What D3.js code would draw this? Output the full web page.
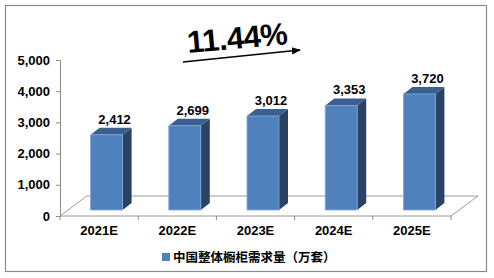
<!DOCTYPE html>
<html><head><meta charset="utf-8">
<script src="https://cdn.jsdelivr.net/npm/d3@7"></script>
<style>
html,body{margin:0;padding:0;background:#fff;}
svg{display:block;font-family:"Liberation Sans",Arial,sans-serif;}
</style></head>
<body>
<svg id="c" width="494" height="278"></svg>
<script>
const categories = ["2021E","2022E","2023E","2024E","2025E"];
const values = [2412,2699,3012,3353,3720];
const yTicks = [0,1000,2000,3000,4000,5000];
const seriesName = "中国整体橱柜需求量（万套）";
const growthLabel = "11.44%";

const svg = d3.select("#c");
// frame
svg.append("rect").attr("x",5.5).attr("y",5.5).attr("width",481).attr("height",266)
  .attr("fill","#fff").attr("stroke","#8a8a8a").attr("stroke-width",1.2);

const x = d3.scaleBand().domain(categories).range([60,451]);
const y = d3.scaleLinear().domain([0,5000]).range([216,60]);
const depth = {dx:27, dy:-20};
const barOff = {dx:7.5, dy:-6};
const barW = 32, bdx = 9, bdy = -7;

// floor
const x0 = x.range()[0], x1 = x.range()[1], y0 = y(0);
svg.append("path")
  .attr("d",`M${x0},${y0}L${x1},${y0}L${x1+depth.dx},${y0+depth.dy}L${x0+depth.dx},${y0+depth.dy}Z`)
  .attr("fill","none").attr("stroke","#9a9a9a").attr("stroke-width",1);

// y axis
const ya = svg.append("g").attr("transform",`translate(${x0},0)`)
  .call(d3.axisLeft(y).tickValues(yTicks).tickFormat(d3.format(",")).tickSize(4).tickPadding(6));
ya.select(".domain").attr("stroke","#8a8a8a");
ya.selectAll(".tick line").attr("stroke","#8a8a8a");
ya.selectAll(".tick text").attr("font-size",13).attr("font-weight","bold")
  .attr("fill","#000").attr("font-family","Liberation Sans, Arial, sans-serif");

// x boundary ticks
const bounds = categories.map(c=>x(c)).concat([x1]);
svg.selectAll(".xt").data(bounds).enter().append("line")
  .attr("x1",d=>d).attr("x2",d=>d).attr("y1",y0).attr("y2",y0+4)
  .attr("stroke","#8a8a8a");
svg.selectAll(".xl").data(categories).enter().append("text")
  .attr("x",d=>x(d)+x.bandwidth()/2).attr("y",235)
  .attr("text-anchor","middle").attr("font-size",13).attr("font-weight","bold")
  .text(d=>d);

// bars
const bars = svg.selectAll(".bar").data(categories.map((c,i)=>({c,v:values[i]}))).enter().append("g");
bars.each(function(d){
  const g = d3.select(this);
  const cx = x(d.c)+x.bandwidth()/2 + barOff.dx;
  const L = cx-barW/2, R = cx+barW/2;
  const B = y(0)+barOff.dy, T = y(d.v)+barOff.dy;
  g.append("path").attr("d",`M${R},${B}L${R+bdx},${B+bdy}L${R+bdx},${T+bdy}L${R},${T}Z`)
    .attr("fill","#2a4263");
  g.append("path").attr("d",`M${L},${T}L${L+bdx},${T+bdy}L${R+bdx},${T+bdy}L${R},${T}Z`)
    .attr("fill","#3b6090");
  g.append("rect").attr("x",L).attr("y",T).attr("width",barW).attr("height",B-T)
    .attr("fill","#4f81bd").attr("stroke","#86a9d6").attr("stroke-width",0.8);
  g.append("text").attr("x",cx+8).attr("y",T-11).attr("text-anchor","middle")
    .attr("font-size",13).attr("font-weight","bold").text(d3.format(",")(d.v));
});

// growth annotation
svg.append("defs").append("marker").attr("id","ah").attr("viewBox","0 0 10 10")
  .attr("refX",9).attr("refY",5).attr("markerWidth",6).attr("markerHeight",6).attr("orient","auto")
  .append("path").attr("d","M0,1L10,5L0,9Z").attr("fill","#000");
svg.append("line").attr("x1",183).attr("y1",62).attr("x2",300).attr("y2",50)
  .attr("stroke","#000").attr("stroke-width",1.5).attr("marker-end","url(#ah)");
svg.append("text").attr("transform","translate(188,53) rotate(-5)")
  .attr("font-size",31).attr("font-weight","bold").attr("letter-spacing",-0.5).text(growthLabel);

// legend
svg.append("rect").attr("x",162).attr("y",253).attr("width",8).attr("height",8).attr("fill","#4f81bd");
svg.append("text").attr("x",173).attr("y",261.5).attr("font-size",12.5).attr("font-weight","bold")
  .attr("font-family","Noto Sans CJK SC, sans-serif").text(seriesName);
</script>
</body></html>
